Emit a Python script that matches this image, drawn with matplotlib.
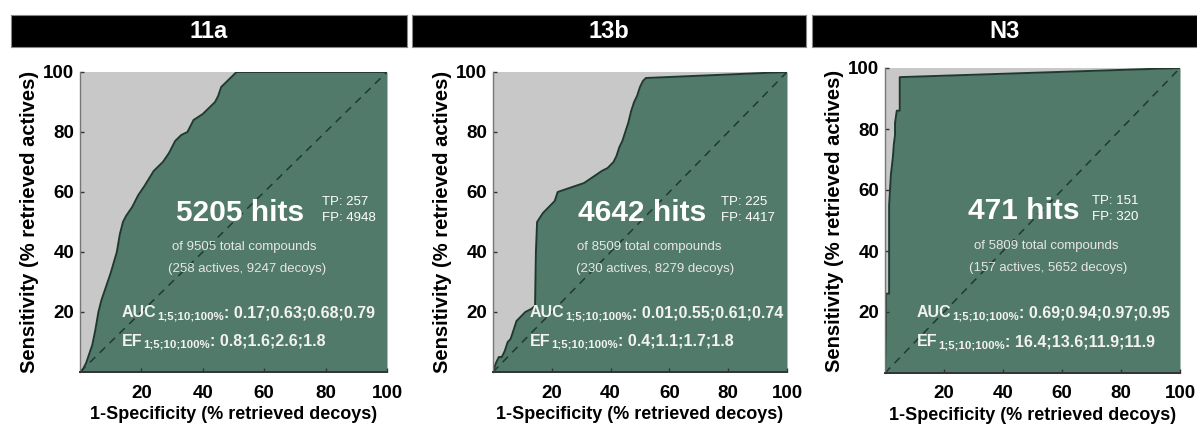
import numpy as np
import matplotlib
matplotlib.use('Agg')
import matplotlib.pyplot as plt

plt.rcParams['font.family'] = ['Liberation Sans', 'DejaVu Sans']

# panel names
titles = ['11a', '13b', 'N3']

# ROC curves (% decoys, % actives)
fpr_11a = [0, 1, 2, 3, 4, 5, 6, 7, 8, 10, 12, 13, 14, 15, 17, 19, 21, 24, 27, 29,
           31, 33, 35, 37, 40, 42, 44, 45, 46, 48, 50, 51, 100]
tpr_11a = [0, 1, 3, 6, 9, 14, 20, 24, 27, 33, 40, 46, 50, 52, 55, 59, 62, 67, 70, 73,
           77, 79, 80, 84, 86, 88, 90, 92, 95, 97, 99, 100, 100]

fpr_13b = [0, 1, 2, 3, 4, 5, 6, 7, 8, 10, 11, 13, 14.3, 14.6, 15, 17, 19, 21, 22,
           25, 28, 31, 34, 37, 39, 41, 42, 43, 44, 45, 46, 47, 48, 49, 50, 51, 52, 100]
tpr_13b = [0, 3, 5, 5, 7, 10, 11, 14, 17, 19, 20, 21, 22, 40, 50, 53, 55, 57, 60,
           61, 62, 63, 65, 67, 68, 70, 72, 75, 77, 80, 83, 87, 90, 92, 95, 97, 98, 100]

fpr_n3 = [0, 0.3, 0.3, 1.4, 1.4, 2.0, 2.7, 3.0, 3.4, 3.4, 4.0, 5.0, 5.0, 100]
tpr_n3 = [0, 13, 26, 26, 55, 65, 71, 75, 78, 82, 86, 86, 97, 100]

curves = [(fpr_11a, tpr_11a), (fpr_13b, tpr_13b), (fpr_n3, tpr_n3)]

hits = ['5205', '4642', '471']
tp = ['257', '225', '151']
fp = ['4948', '4417', '320']
totals = ['9505', '8509', '5809']
actives = ['258', '230', '157']
decoys = ['9247', '8279', '5652']
auc = ['0.17;0.63;0.68;0.79', '0.01;0.55;0.61;0.74', '0.69;0.94;0.97;0.95']
ef = ['0.8;1.6;2.6;1.8', '0.4;1.1;1.7;1.8', '16.4;13.6;11.9;11.9']
subscript = '1;5;10;100%'

# text anchors in data units, per panel
hit_x = [31.3, 29.0, 28.0]
tp_x = [78.8, 77.5, 70.0]
of_x = [30.0, 28.6, 30.0]
act_x = [28.7, 28.2, 28.5]
auc_x = [13.7, 12.6, 10.8]

W, H = 1197, 425
fig = plt.figure(figsize=(W / 100, H / 100), dpi=100)

green = '#527a6b'
grey = '#c8c8c8'
txt_col = '#f2f2f2'


def metric_line(ax, x, y, name, values):
    # name, then a small subscript, then the values
    t1 = ax.text(x, y, name, color=txt_col, fontsize=11.5, fontweight='bold',
                 va='center', ha='left')
    t2 = ax.annotate(subscript, xy=(1, 0), xycoords=t1, xytext=(0.3, -1.0),
                     textcoords='offset points', color=txt_col, fontsize=8.2,
                     fontweight='bold', va='bottom', ha='left')
    ax.annotate(': ' + values, xy=(1, 0), xycoords=(t2, t1), xytext=(0, 0),
                textcoords='offset points', color=txt_col, fontsize=11.5,
                fontweight='bold', va='bottom', ha='left')


ax_boxes = [(80, 72, 307, 300), (493, 72, 294, 300), (885, 68, 295, 305)]
bar_boxes = [(11, 15, 396, 32), (412, 15, 394, 32), (812, 15, 385, 32)]

for i in range(3):
    bx, by, bw, bh = bar_boxes[i]
    tb = fig.add_axes([bx / W, 1 - (by + bh) / H, bw / W, bh / H])
    tb.set_facecolor('black')
    tb.set_xticks([])
    tb.set_yticks([])
    for s in tb.spines.values():
        s.set_color('#888888')
        s.set_linewidth(0.8)
    tb.text(0.5, 0.47, titles[i], color='white', fontsize=17, fontweight='bold',
            ha='center', va='center', transform=tb.transAxes)

    x0, y0, w, h = ax_boxes[i]
    ax = fig.add_axes([x0 / W, 1 - (y0 + h) / H, w / W, h / H])
    ax.set_facecolor(grey)
    x, y = curves[i]
    ax.fill_between(x, y, 0, color=green, lw=0)
    ax.plot(x, y, color='#1e3a30', lw=1.4)
    ax.plot([0, 100], [0, 100], color='#1e3a30', lw=1.1, ls=(0, (5, 4)))
    ax.set_xlim(0, 100)
    ax.set_ylim(0, 100)
    ax.set_xticks([20, 40, 60, 80, 100])
    ax.set_yticks([20, 40, 60, 80, 100])
    ax.tick_params(direction='in', length=3, width=1, color='#333333',
                   labelsize=13.5)
    ax.tick_params(axis='y', pad=4)
    ax.tick_params(axis='x', pad=9)
    for lab in ax.get_xticklabels() + ax.get_yticklabels():
        lab.set_fontweight('bold')
    ax.spines['top'].set_visible(False)
    ax.spines['right'].set_visible(False)
    ax.spines['left'].set_color('#777777')
    ax.spines['bottom'].set_color('#333333')
    ax.spines['left'].set_linewidth(1.0)
    ax.spines['bottom'].set_linewidth(1.4)
    ax.set_xlabel('1-Specificity (% retrieved decoys)', fontsize=13,
                  fontweight='bold', labelpad=3)
    ax.set_ylabel('Sensitivity (% retrieved actives)', fontsize=14.5,
                  fontweight='bold', labelpad=3)

    ax.text(hit_x[i], 53, hits[i] + ' hits', color='white', fontsize=21.5,
            fontweight='bold', va='center', ha='left')
    ax.text(tp_x[i], 56.5, 'TP: ' + tp[i], color='white', fontsize=9.5,
            va='center', ha='left')
    ax.text(tp_x[i], 51.2, 'FP: ' + fp[i], color='white', fontsize=9.5,
            va='center', ha='left')
    ax.text(of_x[i], 41.7, 'of ' + totals[i] + ' total compounds', color='#e6e6e6',
            fontsize=9.5, va='center', ha='left')
    ax.text(act_x[i], 34.3, '(' + actives[i] + ' actives, ' + decoys[i] + ' decoys)',
            color='#e6e6e6', fontsize=9.5, va='center', ha='left')
    metric_line(ax, auc_x[i], 19.7, 'AUC', auc[i])
    metric_line(ax, auc_x[i], 10.3, 'EF', ef[i])

fig.savefig('out.png', dpi=100)
